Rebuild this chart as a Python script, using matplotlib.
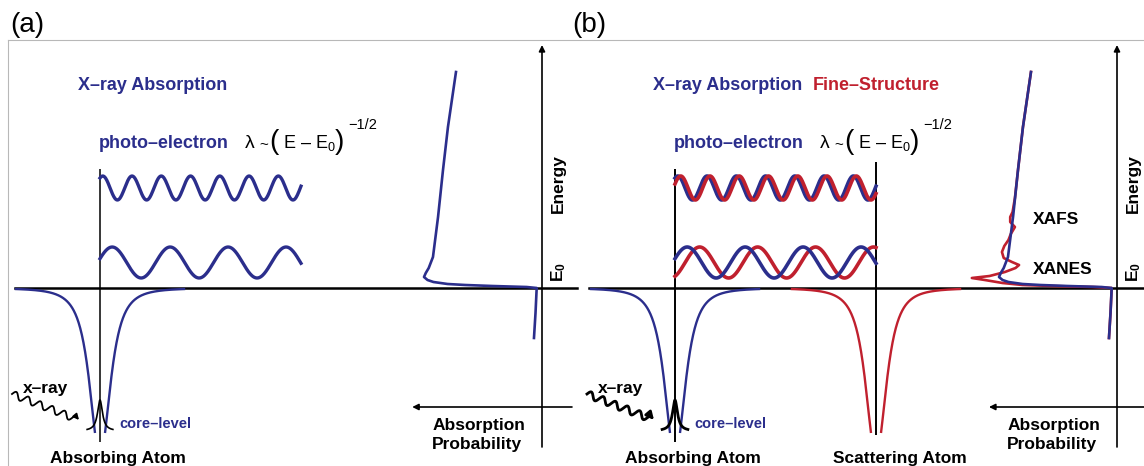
import numpy as np
import matplotlib.pyplot as plt
from matplotlib.lines import Line2D

plt.rcParams['font.family'] = ['Liberation Sans', 'DejaVu Sans']
plt.rcParams['mathtext.fontset'] = 'custom'
plt.rcParams['mathtext.rm'] = 'Liberation Sans'
plt.rcParams['mathtext.it'] = 'Liberation Sans'
plt.rcParams['mathtext.bf'] = 'Liberation Sans:bold'

BLUE = '#2b2e8c'
RED = '#c0202e'

# photo-electron: kinetic energy above E0 (arb. units), drawn amplitude, phases
pe_energy = [25.5, 100.0]
pe_amp = [15.5, 12.0]
pe_phase_out = [0.25, 0.98]
pe_phase_back = [-1.10, 0.34]
lambda_const = 3.64      # lambda = c * (E - E0)^-1/2, Angstrom
bond_length = 2.5        # absorber -> scatterer, Angstrom

# atomic potential wells and the core level
well_depth = 167.6
well_width = 0.195
well_cut = 145.0
well_reach = 1.06
core_energy = -143.0
core_height = 31.0
core_width = 0.037
core_reach = 0.16

# absorption spectra: energy relative to E0, absorption in edge-step units
mu_energy = [-50, -25, 0, 1, 2, 3, 4, 6, 8, 11, 15, 20, 31, 71, 118, 161, 216]
mu_atom = [0.068, 0.055, 0.045, 0.13, 0.42, 0.65, 0.80, 0.92, 0.97, 1.0,
           0.985, 0.96, 0.924, 0.881, 0.839, 0.797, 0.729]
xafs_energy = [-50, -25, 0, 1, 2, 3, 5, 8, 10, 12, 16, 20, 23, 26, 30, 36,
               42, 48, 54, 61, 66, 71, 76, 90, 118, 161, 216]
xafs_mu = [0.068, 0.055, 0.045, 0.2, 0.55, 0.8, 0.97, 1.12, 1.23, 1.08,
           0.95, 0.86, 0.83, 0.89, 0.96, 0.975, 0.955, 0.92, 0.90, 0.865,
           0.905, 0.905, 0.885, 0.865, 0.839, 0.797, 0.729]

# figure geometry (pixels)
W, H = 1144, 466
TOP, E0_ROW = 40, 288
PX_A = 80.4    # pixels per Angstrom
PX_MU = 118    # pixels per edge step

fig = plt.figure(figsize=(W / 100, H / 100), dpi=100)


def make_panel(x0, x1, atom_px, axis_px):
    ax = fig.add_axes([x0 / W, 0, (x1 - x0) / W, (H - TOP) / H])
    ax.set_xlim((x0 - atom_px) / PX_A, (x1 - atom_px) / PX_A)
    ax.set_ylim(E0_ROW - H, E0_ROW - TOP)
    axm = ax.twiny()
    axm.set_xlim((axis_px - x0) / PX_MU, (axis_px - x1) / PX_MU)
    ax.axis('off')
    axm.axis('off')
    return ax, axm


def draw_well(ax, x0, color, lw=1.7):
    r_cut = well_width * np.sqrt((well_depth / well_cut) ** (2 / 3) - 1)
    r = np.linspace(r_cut, well_reach, 300)
    depth = well_depth / (1 + (r / well_width) ** 2) ** 1.5
    for side in (-1, 1):
        ax.plot(x0 + side * r, -depth, color=color, lw=lw, solid_capstyle='butt')


def draw_core(ax, lw):
    r = np.linspace(-core_reach, core_reach, 200)
    ax.plot(r, core_energy + core_height / (1 + (r / core_width) ** 2),
            color='k', lw=lw)


def draw_wave(ax, i, phase, color, lw=2.4):
    lam = lambda_const / np.sqrt(pe_energy[i])
    x = np.linspace(0, bond_length, 500)
    ax.plot(x, pe_energy[i] + pe_amp[i] * np.sin(2 * np.pi * x / lam + phase),
            color=color, lw=lw)


def draw_formula(ax, x_left, e_mid):
    # lambda ~ (E - E0)^-1/2 set piece by piece so the brackets come out tall
    pieces = [(0, 0, r'$\lambda$', 14), (15, -2, '~', 11),
              (25, 1, '(', 20), (39, 0, r'E – E$_0$', 13),
              (91, 1, ')', 20), (104, 18, '−1/2', 10.5)]
    for dx, de, s, size in pieces:
        ax.text(x_left + dx / PX_A, e_mid + de, s, fontsize=size, va='center')


def draw_xray(ax, lw, head):
    # wiggly incoming photon, built in pixel space then scaled to Angstrom
    p0 = np.array([-88.0, -106.0])
    p1 = np.array([-21.0, -132.0])
    d = p1 - p0
    L = np.hypot(*d)
    u = d / L
    n = np.array([-u[1], u[0]])
    s = np.linspace(0, L - 5, 300)
    off = 3.5 * np.sin(2 * np.pi * s / 13)
    pts = p0 + np.outer(s, u) + np.outer(off, n)
    ax.plot(pts[:, 0] / PX_A, pts[:, 1], color='k', lw=lw)
    ax.annotate('', xy=(p1[0] / PX_A, p1[1]),
                xytext=(pts[-1, 0] / PX_A, pts[-1, 1]),
                arrowprops=dict(arrowstyle='-|>', color='k', lw=lw,
                                mutation_scale=head, shrinkA=0, shrinkB=0))


def draw_common(ax, axm, base_from, base_to, arrow_tip, arrow_tail, lw_atom):
    ax.axhline(0, xmin=base_from, xmax=base_to, color='k', lw=1.8)
    ax.vlines(0, -154, 119, color='k', lw=lw_atom)
    draw_well(ax, 0, BLUE)
    ax.text(-0.274, 203, 'X–ray Absorption', color=BLUE, fontsize=13,
            fontweight='bold', va='center')
    ax.text(-0.01, 144, 'photo–electron', color=BLUE, fontsize=13,
            fontweight='bold', va='center')
    draw_formula(ax, 1.79, 145)
    ax.text(-0.96, -100, 'x–ray', fontsize=12.5, fontweight='bold', va='center')
    ax.text(0.236, -136, 'core–level', color=BLUE, fontsize=10.5,
            fontweight='bold', va='center')
    ax.text(0.224, -170, 'Absorbing Atom', fontsize=12.5, fontweight='bold',
            ha='center', va='center')

    # energy axis and absorption-probability arrow
    axm.annotate('', xy=(0, 243), xytext=(0, -159),
                 arrowprops=dict(arrowstyle='-|>', color='k', lw=1.2,
                                 mutation_scale=9, shrinkA=0, shrinkB=0))
    axm.annotate('', xy=(arrow_tip, -119), xytext=(arrow_tail, -119),
                 arrowprops=dict(arrowstyle='-|>', color='k', lw=1.2,
                                 mutation_scale=9, shrinkA=0, shrinkB=0))
    axm.text(-0.135, 104, 'Energy', fontsize=12.5, fontweight='bold',
             rotation=90, ha='center', va='center')
    axm.text(-0.14, 16, r'$\mathbf{E_0}$', fontsize=12.5, rotation=90,
             ha='center', va='center')
    axm.text(0.93, -147, 'Absorption\nProbability', fontsize=12.5,
             fontweight='bold', ha='left', va='center', linespacing=1.35)


# (a) isolated atom
ax_a, axm_a = make_panel(8, 580, 100, 542)
draw_common(ax_a, axm_a, 0.012, 0.995, 1.10, -0.254, 1.1)
for i in range(2):
    draw_wave(ax_a, i, pe_phase_out[i], BLUE)
draw_core(ax_a, 1.2)
draw_xray(ax_a, 1.3, 8)
axm_a.plot(mu_atom, mu_energy, color=BLUE, lw=1.9)

# (b) absorber with a neighbouring scatterer
ax_b, axm_b = make_panel(580, 1144, 675, 1117)
draw_common(ax_b, axm_b, 0.016, 1.0, 1.085, -0.229, 1.4)
ax_b.vlines(bond_length, -147, 126, color='k', lw=1.4)
draw_well(ax_b, bond_length, RED)
draw_wave(ax_b, 0, pe_phase_back[0], RED, 2.6)
draw_wave(ax_b, 0, pe_phase_out[0], BLUE, 2.6)
draw_wave(ax_b, 1, pe_phase_out[1], BLUE, 2.6)
draw_wave(ax_b, 1, pe_phase_back[1], RED, 2.6)
draw_core(ax_b, 2.0)
draw_xray(ax_b, 2.0, 11)
ax_b.text(1.716, 203, 'Fine–Structure', color=RED, fontsize=13,
          fontweight='bold', va='center')
ax_b.text(2.80, -170, 'Scattering Atom', fontsize=12.5, fontweight='bold',
          ha='center', va='center')
axm_b.plot(xafs_mu, xafs_energy, color=RED, lw=1.9)
axm_b.plot(mu_atom, mu_energy, color=BLUE, lw=1.9)
axm_b.text(0.712, 68, 'XAFS', fontsize=12.5, fontweight='bold', va='center')
axm_b.text(0.712, 18, 'XANES', fontsize=12.5, fontweight='bold', va='center')

# thin grey frame and panel letters
fig.add_artist(Line2D([8 / W, 1], [1 - TOP / H] * 2, color='#b8b8b8', lw=0.8))
fig.add_artist(Line2D([8 / W] * 2, [0, 1 - TOP / H], color='#b8b8b8', lw=0.8))
fig.text(10 / W, 1 - 25 / H, '(a)', fontsize=20, va='center')
fig.text(572 / W, 1 - 25 / H, '(b)', fontsize=20, va='center')

fig.savefig('out.png', dpi=100)
